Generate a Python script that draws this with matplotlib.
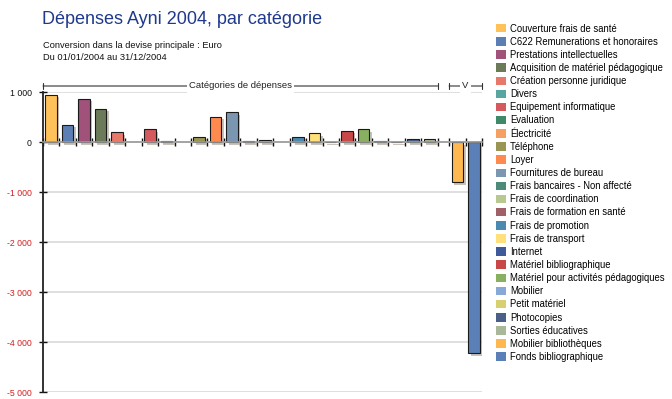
import numpy as np
import matplotlib
matplotlib.use("Agg")
import matplotlib.pyplot as plt
from matplotlib import patheffects as pe
from matplotlib.patches import Patch
from matplotlib.transforms import blended_transform_factory

plt.rcParams['font.family'] = ['Liberation Sans', 'DejaVu Sans']

# =============================
# Data
# =============================
cats_main = ["Couverture frais de santé", "C622 Remunerations et honoraires",
             "Prestations intellectuelles", "Acquisition de matériel pédagogique",
             "Création personne juridique", "Divers", "Equipement informatique",
             "Evaluation", "Électricité", "Téléphone", "Loyer",
             "Fournitures de bureau", "Frais bancaires - Non affecté",
             "Frais de coordination", "Frais de formation en santé",
             "Frais de promotion", "Frais de transport", "Internet",
             "Matériel bibliographique", "Matériel pour activités pédagogiques",
             "Mobilier", "Petit matériel", "Photocopies", "Sorties éducatives"]
vals_main = [950, 350, 870, 665, 195, np.nan, 260, 30, np.nan, 105, 505,
             595, 30, 45, np.nan, 105, 175, 8, 225, 260, 25, 8, 65, 65]

cats_v = ["Mobilier bibliothèques", "Fonds bibliographique"]
vals_v = [-800, -4220]

colors = ["#FFC15A", "#5B7FB5", "#A0527A", "#6B7B5A", "#E8786A", "#5AA5A0",
          "#D45A5E", "#3E8A68", "#F5A060", "#9A9455", "#FF8A50", "#7A96B0",
          "#4E8A78", "#B8C890", "#A06068", "#4A8AB0", "#FFE07A", "#3E5A98",
          "#C84848", "#88B060", "#88A8D8", "#D8D070", "#4A6088", "#A8B898",
          "#FFB850", "#5B80B8"]

yticks = [1000, 0, -1000, -2000, -3000, -4000, -5000]
group_labels = ["Catégories de dépenses", "V"]

# =============================
# Layout
# =============================
gap = 0.7
n1 = len(cats_main)
n2 = len(cats_v)
x_main = np.arange(n1) + 0.5
x_v = n1 + gap + np.arange(n2) + 0.5
x_end = n1 + gap + n2

fig = plt.figure(figsize=(6.72, 3.99), dpi=100)
ax = fig.add_axes([43 / 672, 1 - 392 / 399, (482 - 43) / 672, 300 / 399])

shadow = [pe.SimplePatchShadow(offset=(1.8, -1.8), shadow_rgbFace="#9a9284", alpha=0.55),
          pe.Normal()]

ax.bar(x_main, vals_main, width=0.7, color=colors[:n1], edgecolor="#1a1a1a",
       linewidth=0.8, path_effects=shadow, zorder=3)
ax.bar(x_v, vals_v, width=0.7, color=colors[n1:], edgecolor="#1a1a1a",
       linewidth=0.8, path_effects=shadow, zorder=3)

ax.set_xlim(0, x_end)
ax.set_ylim(-5000, 1000)

# y axis
ax.set_yticks(yticks, [f"{v:,}".replace(",", " ") for v in yticks])
for lab, v in zip(ax.get_yticklabels(), yticks):
    lab.set_color("#D42020" if v < 0 else "#111111")
ax.tick_params(axis="y", direction="inout", length=6, width=1, labelsize=6.3,
               pad=5, color="#111111")
ax.yaxis.grid(True, color="#d6d6d6", lw=1.1, zorder=0)

# zero line with slot ticks
bounds = list(np.arange(n1 + 1)) + list(n1 + gap + np.arange(n2 + 1))
ax.set_xticks(bounds, [""] * len(bounds))
ax.spines["bottom"].set_position(("data", 0))
ax.spines["bottom"].set_color("#9a9a9a")
ax.spines["bottom"].set_linewidth(1.2)
ax.spines["bottom"].set_zorder(4)
ax.tick_params(axis="x", direction="inout", length=6, width=1, color="#111111")
ax.spines["left"].set_linewidth(1.3)
ax.spines["left"].set_color("#222222")
for s in ["top", "right"]:
    ax.spines[s].set_visible(False)

# group brackets
trans = blended_transform_factory(ax.transData, ax.transAxes)
for (x0, x1), lab in zip([(0, n1), (n1 + gap, x_end)], group_labels):
    ax.annotate("", xy=(x0, 1.02), xytext=(x1, 1.02), xycoords=trans,
                textcoords=trans, annotation_clip=False,
                arrowprops=dict(arrowstyle="|-|, widthA=0.25, widthB=0.25",
                                lw=0.8, color="#333333", shrinkA=0, shrinkB=0))
    ax.text((x0 + x1) / 2, 1.02, lab, transform=trans, ha="center", va="center",
            fontsize=6.8, color="#222222",
            bbox=dict(facecolor="white", edgecolor="none", pad=1.5))

# titles
fig.text(42 / 672, 1 - 20 / 399, "Dépenses Ayni 2004, par catégorie",
         fontsize=13, color="#1F3A8C", va="center", ha="left")
fig.text(43 / 672, 1 - 45 / 399, "Conversion dans la devise principale : Euro",
         fontsize=6.7, color="#111111", va="center")
fig.text(43 / 672, 1 - 58 / 399, "Du 01/01/2004 au 31/12/2004",
         fontsize=6.7, color="#111111", va="center")

# legend
handles = [Patch(facecolor=c, edgecolor="none") for c in colors]
fig.legend(handles, cats_main + cats_v, loc="upper left",
           bbox_to_anchor=(496 / 672, 1 - 23.5 / 399), frameon=False,
           fontsize=6.85, handlelength=1.0, handleheight=1.0,
           handletextpad=0.45, labelspacing=0.33, borderpad=0, borderaxespad=0)

fig.savefig("out.png", dpi=100)
